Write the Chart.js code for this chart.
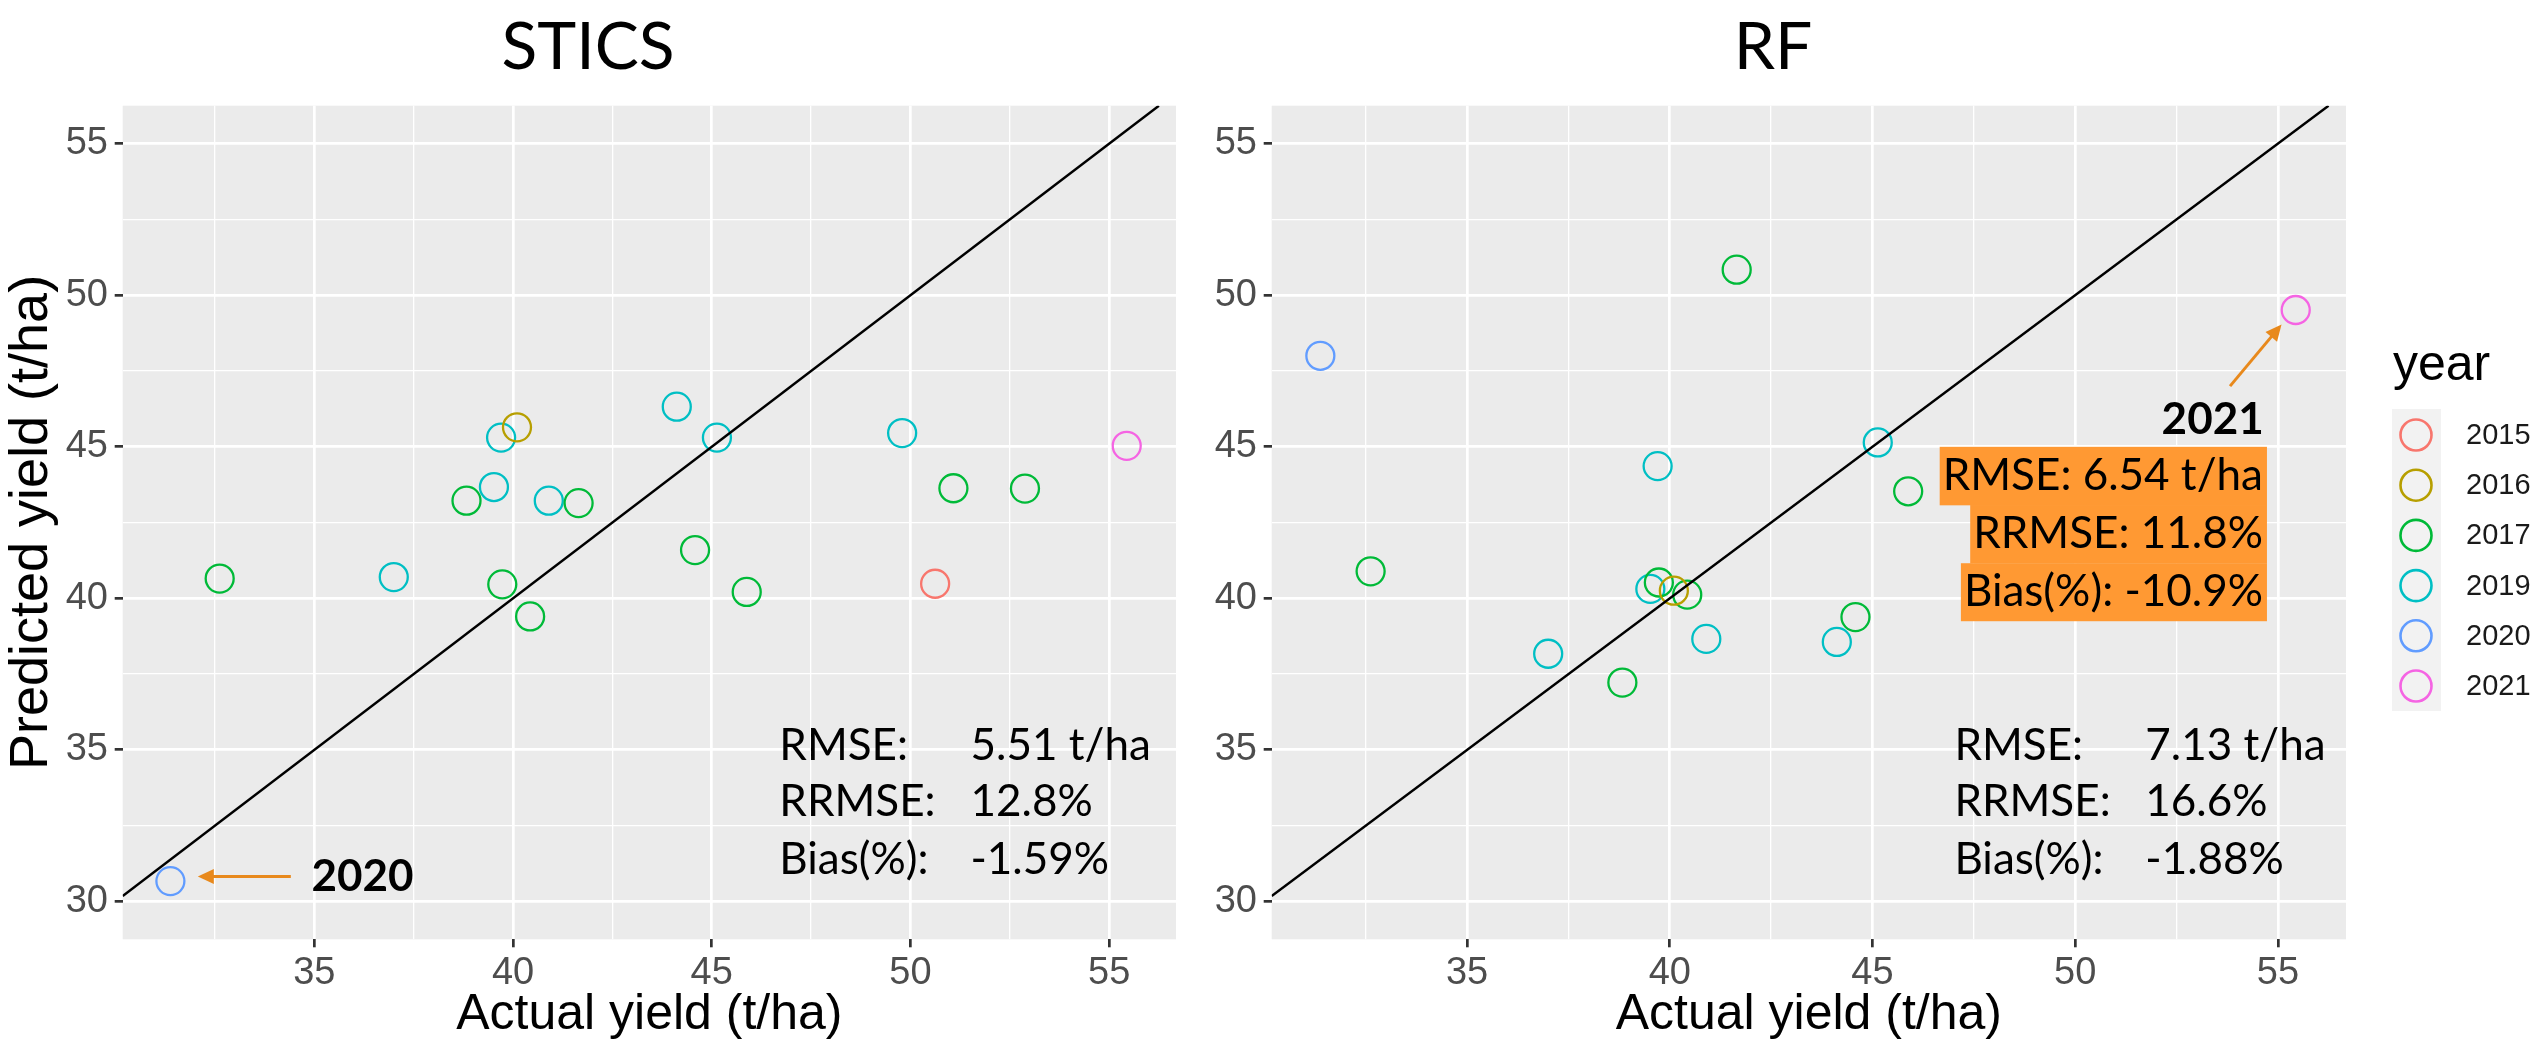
<!DOCTYPE html>
<html>
<head>
<meta charset="utf-8">
<title>Actual vs predicted yield: STICS and RF</title>
<script src="https://cdn.jsdelivr.net/npm/chart.js@4.4.1/dist/chart.umd.min.js"></script>
<style>
  html, body { margin: 0; padding: 0; background: #fff; }
  #wrap { position: relative; width: 2542px; height: 1048px; overflow: hidden; }
  #wrap canvas { position: absolute; top: 0; }
  #stics { left: 0; }
  #rf { left: 1200px; }
</style>
</head>
<body>
<div id="wrap">
  <canvas id="stics" width="1208" height="1048"></canvas>
  <canvas id="rf" width="1342" height="1048"></canvas>
</div>
<script>
// years and the ggplot default hue palette
const years = ['2015', '2016', '2017', '2019', '2020', '2021'];
const yearColors = ['#F8766D', '#B79F00', '#00BA38', '#00BFC4', '#619CFF', '#F564E3'];

// one entry per field: observed yield (t/ha), year, predictions of both models
const actualYield = [31.38, 32.62, 37.00, 38.83, 39.52, 39.70, 40.10, 39.73, 40.43, 40.90,
                     41.65, 44.12, 45.13, 44.58, 45.88, 49.79, 50.62, 51.08, 52.88, 55.44];
const fieldYear   = ['2020', '2017', '2019', '2017', '2019', '2019', '2016', '2017', '2017', '2019',
                     '2017', '2019', '2019', '2017', '2017', '2019', '2015', '2017', '2017', '2021'];
const sticsYield  = [30.67, 40.65, 40.70, 43.22, 43.67, 45.30, 45.64, 40.46, 39.40, 43.22,
                     43.14, 46.32, 45.30, 41.59, 40.21, 45.45, 40.48, 43.63, 43.62, 45.03];
// no RF point drawn for the last four high-yield fields before 2021
const rfYield     = [48.00, 40.89, 38.17, 37.22, 40.31, 44.36, 40.25, 40.52, 40.12, 38.66,
                     50.84, 38.56, 45.14, 39.38, 43.53, null, null, null, null, 49.51];

// axes
const gridTicks = [30, 32.5, 35, 37.5, 40, 42.5, 45, 47.5, 50, 52.5, 55];
const xLimits = [30.18, 56.68];
const yLimits = [28.75, 56.25];

// fit statistics
const sticsStats = [['RMSE:', '5.51 t/ha'], ['RRMSE:', '12.8%'], ['Bias(%):', '-1.59%']];
const rfStats = [['RMSE:', '7.13 t/ha'], ['RRMSE:', '16.6%'], ['Bias(%):', '-1.88%']];
const rfStats2021 = ['RMSE: 6.54 t/ha', 'RRMSE: 11.8%', 'Bias(%): -10.9%'];

const TICK_FONT = 'Liberation Sans';
const NOTE_FONT = 'Lato';
const ARROW = '#E8891C';

const isMajor = v => Math.abs(v / 5 - Math.round(v / 5)) < 1e-6;

function buildDatasets(pred) {
  const sets = years.map((yr, i) => ({
    type: 'scatter',
    label: yr,
    data: actualYield
      .map((x, k) => ({ x, y: pred[k], yr: fieldYear[k] }))
      .filter(p => p.yr === yr && p.y != null),
    borderColor: yearColors[i],
    backgroundColor: 'rgba(0,0,0,0)',
    pointRadius: 14,
    pointBorderWidth: 2.3,
    order: 2
  }));
  // 1:1 line
  sets.push({
    type: 'line',
    label: '1:1',
    data: [{ x: xLimits[0], y: xLimits[0] }, { x: yLimits[1], y: yLimits[1] }],
    borderColor: '#000',
    borderWidth: 2.4,
    pointRadius: 0,
    fill: false,
    order: 1
  });
  return sets;
}

// grey panel like theme_grey
const panelBg = {
  id: 'panelBg',
  beforeDraw(chart) {
    const { ctx, chartArea: a } = chart;
    ctx.save();
    ctx.fillStyle = '#EBEBEB';
    ctx.fillRect(a.left, a.top, a.right - a.left, a.bottom - a.top);
    ctx.restore();
  }
};

function drawArrow(ctx, x0, y0, x1, y1) {
  const ang = Math.atan2(y1 - y0, x1 - x0);
  const head = 16, half = 7.5;
  ctx.strokeStyle = ARROW;
  ctx.fillStyle = ARROW;
  ctx.lineWidth = 3;
  ctx.beginPath();
  ctx.moveTo(x0, y0);
  ctx.lineTo(x1 - head * 0.8 * Math.cos(ang), y1 - head * 0.8 * Math.sin(ang));
  ctx.stroke();
  ctx.beginPath();
  ctx.moveTo(x1, y1);
  ctx.lineTo(x1 - head * Math.cos(ang) + half * Math.sin(ang), y1 - head * Math.sin(ang) - half * Math.cos(ang));
  ctx.lineTo(x1 - head * Math.cos(ang) - half * Math.sin(ang), y1 - head * Math.sin(ang) + half * Math.cos(ang));
  ctx.closePath();
  ctx.fill();
}

// stats text, highlighted box and arrow labels, placed in data units
const notes = {
  id: 'notes',
  afterDatasetsDraw(chart, args, o) {
    const { ctx, scales: { x, y } } = chart;
    ctx.save();
    ctx.textBaseline = 'middle';
    ctx.fillStyle = '#000';
    ctx.font = `44px ${NOTE_FONT}`;
    o.stats.forEach((row, i) => {
      const py = y.getPixelForValue(o.rows[i]);
      ctx.textAlign = 'left';
      ctx.fillText(row[0], x.getPixelForValue(o.cols[0]), py);
      ctx.fillText(row[1], x.getPixelForValue(o.cols[1]), py);
    });

    if (o.box) {
      const right = x.getPixelForValue(o.box.right);
      const rowH = 58;
      o.box.lines.forEach((t, i) => {
        const py = y.getPixelForValue(o.box.rows[i]);
        const w = ctx.measureText(t).width;
        ctx.fillStyle = '#FF9933';
        ctx.fillRect(right - w - 7, py - rowH / 2, w + 7, rowH + (i < 2 ? 0.5 : 0));
        ctx.fillStyle = '#000';
        ctx.textAlign = 'right';
        ctx.fillText(t, right - 4, py);
      });
    }

    const a = o.arrow;
    drawArrow(ctx, x.getPixelForValue(a.from[0]), y.getPixelForValue(a.from[1]),
              x.getPixelForValue(a.to[0]), y.getPixelForValue(a.to[1]));
    ctx.fillStyle = '#000';
    ctx.font = `bold 44px ${NOTE_FONT}`;
    ctx.textAlign = a.align;
    ctx.fillText(a.text, x.getPixelForValue(a.at[0]), y.getPixelForValue(a.at[1]));
    ctx.restore();
  }
};

// colour legend for year, drawn to the right of the RF panel
const yearLegend = {
  id: 'yearLegend',
  afterDraw(chart) {
    const { ctx } = chart;
    const ox = -1200;
    ctx.save();
    ctx.fillStyle = '#000';
    ctx.font = `50px ${TICK_FONT}`;
    ctx.textAlign = 'left';
    ctx.textBaseline = 'alphabetic';
    ctx.fillText('year', 2393 + ox, 380);
    ctx.fillStyle = '#F2F2F2';
    ctx.fillRect(2392 + ox, 409, 49, 302);
    const sets = chart.data.datasets.filter(d => d.type === 'scatter');
    sets.forEach((d, i) => {
      const cy = 435 + i * 50.2;
      ctx.beginPath();
      ctx.arc(2416 + ox, cy, 15.5, 0, Math.PI * 2);
      ctx.strokeStyle = d.borderColor;
      ctx.lineWidth = 2.6;
      ctx.stroke();
      ctx.fillStyle = '#1A1A1A';
      ctx.font = `29px ${TICK_FONT}`;
      ctx.textBaseline = 'middle';
      ctx.fillText(d.label, 2466 + ox, cy + 1);
    });
    ctx.restore();
  }
};

function axis(extra) {
  return Object.assign({
    type: 'linear',
    bounds: 'data',
    border: { display: false },
    grid: {
      color: '#FFFFFF',
      lineWidth: c => (isMajor(c.tick.value) ? 2.7 : 1.3),
      tickColor: c => (isMajor(c.tick.value) ? '#333333' : 'rgba(0,0,0,0)'),
      tickWidth: 2.7,
      tickLength: 8,
      drawTicks: true
    },
    ticks: {
      autoSkip: false,
      maxRotation: 0,
      color: '#4D4D4D',
      font: { family: TICK_FONT, size: 38 },
      callback: v => (isMajor(v) ? String(v) : '')
    }
  }, extra);
}

function makeChart(id, title, pred, yWidth, padRight, yTitle, noteOpts, extraPlugins) {
  return new Chart(document.getElementById(id), {
    type: 'scatter',
    data: { datasets: buildDatasets(pred) },
    options: {
      responsive: false,
      animation: false,
      events: [],
      layout: { padding: { left: 0, right: padRight, top: 0, bottom: 0 } },
      plugins: {
        legend: { display: false },
        tooltip: { enabled: false },
        title: {
          display: true,
          text: title,
          color: '#000',
          font: { family: NOTE_FONT, size: 66, weight: 'normal', lineHeight: 1.2 },
          padding: { top: 8, bottom: 18.5 }
        },
        notes: noteOpts
      },
      scales: {
        x: axis({
          min: xLimits[0], max: xLimits[1],
          afterBuildTicks: ax => { ax.ticks = gridTicks.filter(v => v >= xLimits[0]).map(v => ({ value: v })); },
          afterFit: ax => { ax.height = 108.7; },
          title: {
            display: true, text: 'Actual yield (t/ha)', color: '#000',
            font: { family: TICK_FONT, size: 50, lineHeight: 1.2 },
            padding: { top: 0, bottom: 3 }
          }
        }),
        y: axis({
          min: yLimits[0], max: yLimits[1],
          afterBuildTicks: ax => { ax.ticks = gridTicks.map(v => ({ value: v })); },
          afterFit: ax => { ax.width = yWidth; },
          ticks: Object.assign({}, axis({}).ticks, { padding: 6.7 }),
          title: {
            display: !!yTitle, text: yTitle || '', color: '#000',
            font: { family: TICK_FONT, size: 54, lineHeight: 1.2 },
            padding: { top: 0, bottom: 0 }
          }
        })
      }
    },
    plugins: [panelBg, notes].concat(extraPlugins || [])
  });
}

makeChart('stics', 'STICS', sticsYield, 122.7, 32, 'Predicted yield (t/ha)', {
  stats: sticsStats,
  cols: [46.70, 51.51],
  rows: [35.13, 33.29, 31.38],
  arrow: { from: [34.41, 30.82], to: [32.07, 30.82], text: '2020', at: [34.93, 30.81], align: 'left' }
});

makeChart('rf', 'RF', rfYield, 71.7, 196, null, {
  stats: rfStats,
  cols: [47.02, 51.73],
  rows: [35.13, 33.29, 31.38],
  box: { lines: rfStats2021, right: 54.73, rows: [44.04, 42.12, 40.20] },
  arrow: { from: [53.82, 47.0], to: [55.09, 49.03], text: '2021', at: [54.65, 45.88], align: 'right' }
}, [yearLegend]);
</script>
</body>
</html>
